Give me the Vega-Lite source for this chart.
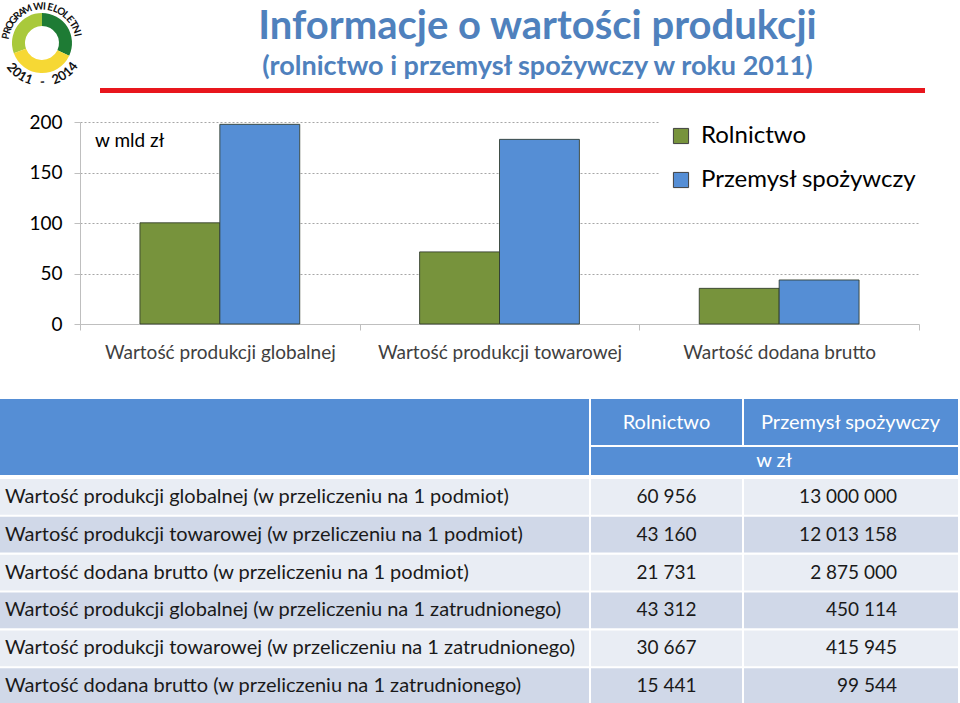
{
  "$schema": "https://vega.github.io/schema/vega-lite/v6.json",
  "padding": 0,
  "background": "white",
  "spacing": 36,
  "resolve": {"scale": {"color": "independent", "x": "independent", "y": "independent"}, "legend": {"color": "independent"}},
  "config": {
    "view": {"stroke": null},
    "font": "Lato",
    "locale": {"number": {"decimal": ",", "thousands": " ", "grouping": [3], "currency": ["", " zł"]}}
  },
  "vconcat": [
    {
      "spacing": 20,
      "resolve": {"scale": {"color": "independent", "x": "independent", "y": "independent"}, "legend": {"color": "independent"}},
      "vconcat": [
        {
          "spacing": 16,
          "resolve": {"scale": {"color": "independent", "x": "independent", "y": "independent"}, "legend": {"color": "independent"}},
          "hconcat": [
            {
              "width": 84,
              "height": 86,
              "layer": [
                {
                  "data": {"values": [
                    {"segment": "ciemnozielony", "udzial": 115},
                    {"segment": "jasnozielony", "udzial": 110},
                    {"segment": "żółty", "udzial": 135}
                  ]},
                  "mark": {"type": "arc", "radius": 30, "radius2": 17},
                  "encoding": {
                    "theta": {"field": "udzial", "type": "quantitative", "scale": {"range": [8.290, 2.007]}},
                    "color": {"field": "segment", "type": "nominal", "scale": {"domain": ["ciemnozielony", "jasnozielony", "żółty"], "range": ["#1e7b34", "#a9c93b", "#f6d834"]}, "legend": null}
                  }
                },
                {
                  "data": {"values": [
                    {"litera": "P"}, {"litera": "R"}, {"litera": "O"}, {"litera": "G"}, {"litera": "R"}, {"litera": "A"}, {"litera": "M"}, {"litera": " "},
                    {"litera": "W"}, {"litera": "I"}, {"litera": "E"}, {"litera": "L"}, {"litera": "O"}, {"litera": "L"}, {"litera": "E"}, {"litera": "T"}, {"litera": "N"}, {"litera": "I"}
                  ]},
                  "transform": [{"window": [{"op": "row_number", "as": "nr"}]}],
                  "mark": {"type": "text", "radius": 36.5, "fontSize": 10, "fontWeight": "bold", "color": "#111111", "baseline": "middle", "align": "center"},
                  "encoding": {
                    "theta": {"field": "nr", "type": "quantitative", "scale": {"domain": [1, 18], "range": [-1.38, 1.35], "zero": false}},
                    "angle": {"field": "nr", "type": "quantitative", "scale": {"domain": [1, 18], "range": [-79, 77], "zero": false}},
                    "text": {"field": "litera"}
                  }
                },
                {
                  "data": {"values": [
                    {"litera": "2"}, {"litera": "0"}, {"litera": "1"}, {"litera": "1"}, {"litera": " "}, {"litera": "-"}, {"litera": " "},
                    {"litera": "2"}, {"litera": "0"}, {"litera": "1"}, {"litera": "4"}
                  ]},
                  "transform": [{"window": [{"op": "row_number", "as": "nr"}]}],
                  "mark": {"type": "text", "radius": 39, "fontSize": 13, "fontWeight": "bold", "color": "#111111", "baseline": "middle", "align": "center"},
                  "encoding": {
                    "theta": {"field": "nr", "type": "quantitative", "scale": {"domain": [1, 11], "range": [4.03, 2.23], "zero": false}},
                    "angle": {"field": "nr", "type": "quantitative", "scale": {"domain": [1, 11], "range": [51, -52], "zero": false}},
                    "text": {"field": "litera"}
                  }
                }
              ],
              "resolve": {"scale": {"theta": "independent", "angle": "independent", "color": "independent"}}
            },
            {
              "width": 825,
              "height": 93,
              "title": {
                "text": "Informacje o wartości produkcji",
                "subtitle": "(rolnictwo i przemysł spożywczy w roku 2011)",
                "anchor": "middle",
                "dx": 25,
                "offset": -80,
                "fontSize": 40,
                "fontWeight": "bold",
                "color": "#4f81bd",
                "subtitleFontSize": 27,
                "subtitleFontWeight": "bold",
                "subtitleColor": "#4f81bd",
                "subtitlePadding": 7,
                "font": "Lato",
                "subtitleFont": "Lato"
              },
              "data": {"values": [{"element": "linia"}]},
              "mark": {"type": "rect", "color": "#e8161d"},
              "encoding": {
                "x": {"datum": 0, "type": "quantitative", "scale": {"domain": [0, 1]}, "axis": null},
                "x2": {"datum": 1},
                "y": {"datum": 0, "type": "quantitative", "scale": {"domain": [0, 1], "range": [88, 93]}, "axis": null},
                "y2": {"datum": 1}
              }
            }
          ]
        },
        {
          "width": 919,
          "height": 202,
          "data": {"values": [
            {"kategoria": "Wartość produkcji globalnej", "sektor": "Rolnictwo", "wartosc": 100.2},
            {"kategoria": "Wartość produkcji globalnej", "sektor": "Przemysł spożywczy", "wartosc": 197.7},
            {"kategoria": "Wartość produkcji towarowej", "sektor": "Rolnictwo", "wartosc": 71.4},
            {"kategoria": "Wartość produkcji towarowej", "sektor": "Przemysł spożywczy", "wartosc": 182.8},
            {"kategoria": "Wartość dodana brutto", "sektor": "Rolnictwo", "wartosc": 35.3},
            {"kategoria": "Wartość dodana brutto", "sektor": "Przemysł spożywczy", "wartosc": 43.6}
          ]},
          "layer": [
            {
              "mark": {"type": "bar", "stroke": "#2f3a2a", "strokeWidth": 1, "strokeOpacity": 0.85},
              "encoding": {
                "x": {
                  "field": "kategoria", "type": "nominal", "sort": null,
                  "scale": {"paddingInner": 0, "paddingOuter": 0, "range": [80, 919]},
                  "axis": {"title": null, "labelAngle": 0, "labelFontSize": 19, "labelLimit": 0, "labelColor": "#404040", "labelPadding": 13, "domainColor": "#bfbfbf", "tickColor": "#bfbfbf", "tickSize": 6, "tickBand": "extent", "grid": false}
                },
                "xOffset": {"field": "sektor", "type": "nominal", "sort": null, "scale": {"paddingInner": 0, "paddingOuter": 0.75}},
                "y": {
                  "field": "wartosc", "type": "quantitative",
                  "scale": {"domain": [0, 200]},
                  "axis": {"title": null, "offset": -80, "values": [0, 50, 100, 150, 200], "labelFontSize": 19, "labelColor": "#000000", "labelPadding": 12, "tickSize": 6, "tickColor": "#bfbfbf", "domainColor": "#bfbfbf", "gridColor": "#a6a6a6", "gridDash": [2, 2], "grid": true}
                },
                "color": {
                  "field": "sektor", "type": "nominal", "sort": null,
                  "scale": {"domain": ["Rolnictwo", "Przemysł spożywczy"], "range": ["#77933c", "#558ed5"]},
                  "legend": {"title": null, "orient": "top-right", "offset": -8, "fillColor": "white", "padding": 10, "symbolType": "square", "symbolSize": 230, "symbolStrokeColor": "#404040", "symbolStrokeWidth": 1, "symbolOpacity": 1, "labelFontSize": 24, "labelLimit": 0, "labelColor": "#000000", "rowPadding": 20, "labelOffset": 8}
                }
              }
            },
            {
              "data": {"values": [{"jednostka": "w mld zł"}]},
              "mark": {"type": "text", "align": "left", "baseline": "middle", "dx": 15, "dy": 19, "fontSize": 19, "color": "#000000"},
              "encoding": {
                "x": {"datum": "Wartość produkcji globalnej", "bandPosition": 0},
                "y": {"datum": 200},
                "text": {"field": "jednostka"}
              }
            }
          ]
        }
      ]
    },
    {
      "spacing": 2,
      "resolve": {"scale": {"color": "independent", "x": "independent", "y": "independent"}, "legend": {"color": "independent"}},
      "vconcat": [
        {
          "width": 958,
          "height": 76,
          "view": {"fill": "#558ed5", "stroke": null},
          "data": {"values": [{"kolumna": "Rolnictwo"}, {"kolumna": "Przemysł spożywczy"}]},
          "layer": [
            {
              "mark": {"type": "rule", "color": "white", "strokeWidth": 2},
              "encoding": {
                "x": {"datum": 1, "type": "quantitative", "scale": {"domain": [0, 1, 2, 3], "range": [0, 590, 743, 958], "nice": false, "zero": false}, "axis": null},
                "y": {"datum": 0, "type": "quantitative", "scale": {"domain": [0, 1, 2], "range": [0, 47, 76], "nice": false, "zero": false}, "axis": null},
                "y2": {"datum": 2}
              }
            },
            {
              "mark": {"type": "rule", "color": "white", "strokeWidth": 2},
              "encoding": {"x": {"datum": 2}, "y": {"datum": 0}, "y2": {"datum": 1}}
            },
            {
              "mark": {"type": "rule", "color": "white", "strokeWidth": 2},
              "encoding": {"x": {"datum": 1}, "x2": {"datum": 3}, "y": {"datum": 1}}
            },
            {
              "transform": [{"filter": "datum.kolumna === 'Rolnictwo'"}],
              "mark": {"type": "text", "align": "center", "baseline": "middle", "fontSize": 20, "color": "white"},
              "encoding": {"x": {"datum": 1.5}, "y": {"datum": 0.5}, "text": {"field": "kolumna"}}
            },
            {
              "transform": [{"filter": "datum.kolumna === 'Przemysł spożywczy'"}],
              "mark": {"type": "text", "align": "center", "baseline": "middle", "fontSize": 20, "color": "white"},
              "encoding": {"x": {"datum": 2.5}, "y": {"datum": 0.5}, "text": {"field": "kolumna"}}
            },
            {
              "data": {"values": [{"jednostka": "w zł"}]},
              "mark": {"type": "text", "align": "center", "baseline": "middle", "fontSize": 20, "color": "white", "dx": 31},
              "encoding": {"x": {"datum": 2}, "y": {"datum": 1.5}, "text": {"field": "jednostka"}}
            }
          ]
        },
        {
          "width": 958,
          "height": 225,
          "data": {"values": [
            {"wskaznik": "Wartość produkcji globalnej (w przeliczeniu na 1 podmiot)", "rolnictwo": 60956, "przemysl": 13000000},
            {"wskaznik": "Wartość produkcji towarowej (w przeliczeniu na  1 podmiot)", "rolnictwo": 43160, "przemysl": 12013158},
            {"wskaznik": "Wartość dodana brutto  (w przeliczeniu na 1 podmiot)", "rolnictwo": 21731, "przemysl": 2875000},
            {"wskaznik": "Wartość produkcji globalnej (w przeliczeniu na 1 zatrudnionego)", "rolnictwo": 43312, "przemysl": 450114},
            {"wskaznik": "Wartość produkcji towarowej (w przeliczeniu na 1 zatrudnionego)", "rolnictwo": 30667, "przemysl": 415945},
            {"wskaznik": "Wartość dodana brutto  (w przeliczeniu na 1 zatrudnionego)", "rolnictwo": 15441, "przemysl": 99544}
          ]},
          "layer": [
            {
              "mark": {"type": "rect"},
              "encoding": {
                "x": {"datum": 0, "type": "quantitative", "scale": {"domain": [0, 1, 2, 3], "range": [0, 590, 743, 958], "nice": false, "zero": false}, "axis": null},
                "x2": {"datum": 3},
                "y": {"field": "wskaznik", "type": "nominal", "sort": null, "scale": {"paddingInner": 0.055, "paddingOuter": 0}, "axis": null},
                "color": {"field": "wskaznik", "type": "nominal", "sort": null, "scale": {"range": ["#e9edf4", "#d0d8e8", "#e9edf4", "#d0d8e8", "#e9edf4", "#d0d8e8"]}, "legend": null}
              }
            },
            {
              "mark": {"type": "rule", "color": "white", "strokeWidth": 2},
              "encoding": {"x": {"datum": 1}}
            },
            {
              "mark": {"type": "rule", "color": "white", "strokeWidth": 2},
              "encoding": {"x": {"datum": 2}}
            },
            {
              "mark": {"type": "text", "align": "left", "baseline": "middle", "dx": 5, "fontSize": 20, "color": "#1a1a1a", "limit": 0},
              "encoding": {"x": {"datum": 0}, "y": {"field": "wskaznik", "type": "nominal", "sort": null}, "text": {"field": "wskaznik"}}
            },
            {
              "mark": {"type": "text", "align": "center", "baseline": "middle", "fontSize": 19, "color": "#1a1a1a"},
              "encoding": {"x": {"datum": 1.5}, "y": {"field": "wskaznik", "type": "nominal", "sort": null}, "text": {"field": "rolnictwo", "type": "quantitative", "format": ",d"}}
            },
            {
              "mark": {"type": "text", "align": "right", "baseline": "middle", "dx": -61, "fontSize": 19, "color": "#1a1a1a"},
              "encoding": {"x": {"datum": 3}, "y": {"field": "wskaznik", "type": "nominal", "sort": null}, "text": {"field": "przemysl", "type": "quantitative", "format": ",d"}}
            }
          ]
        }
      ]
    }
  ]
}
